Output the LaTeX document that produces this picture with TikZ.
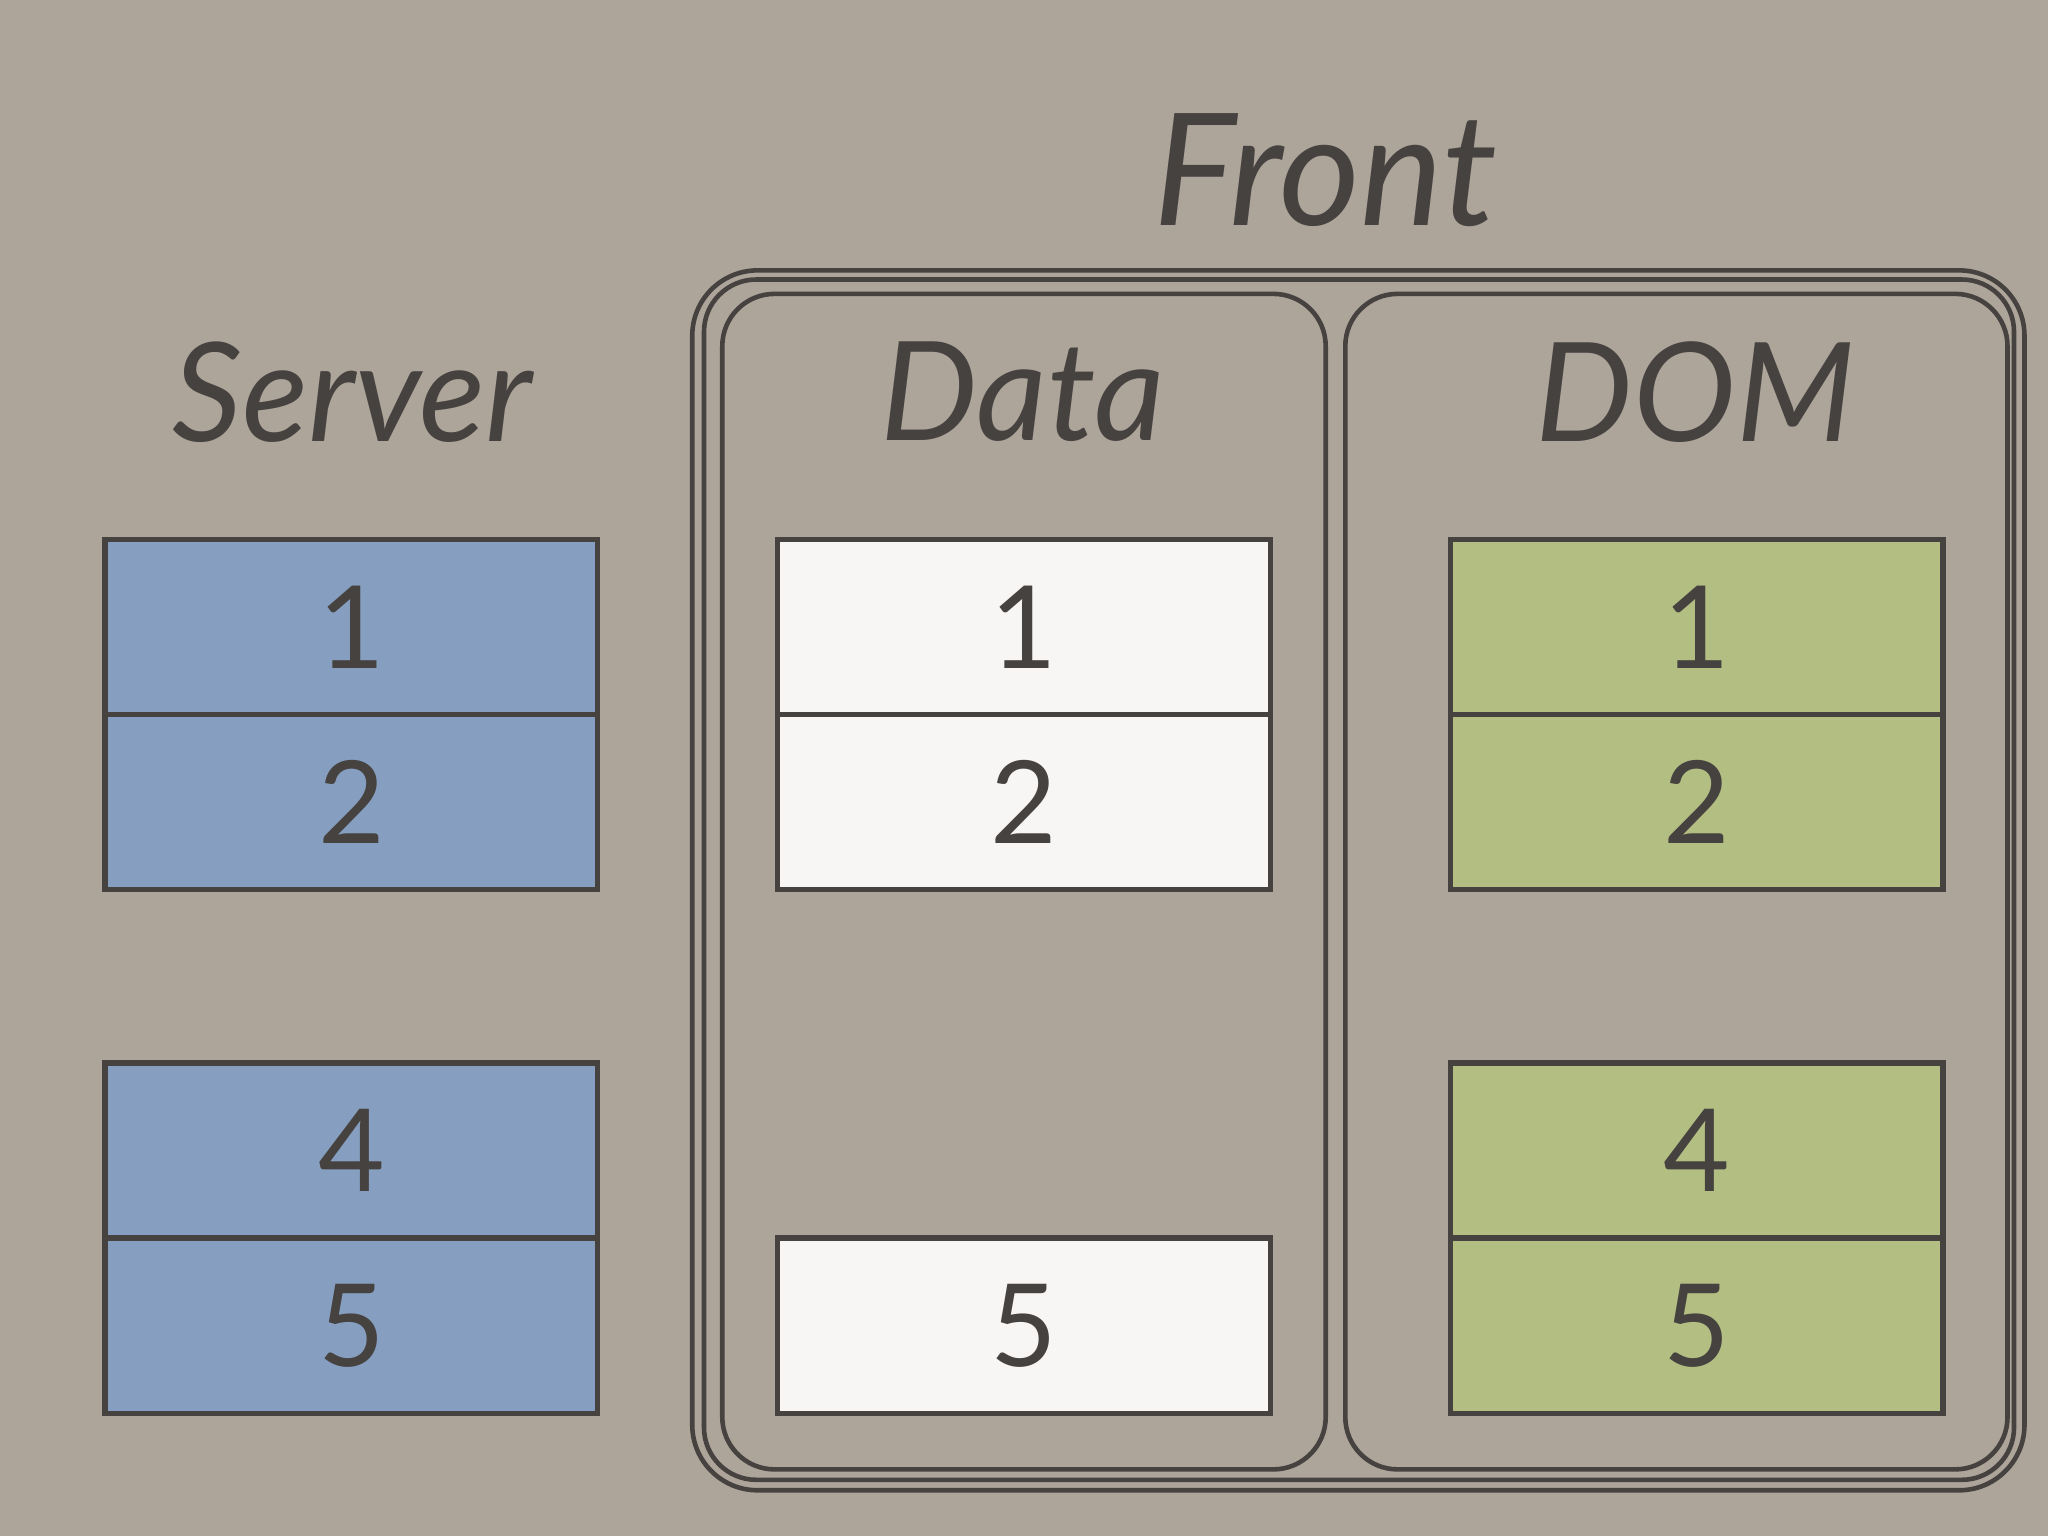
\documentclass[tikz,border=0pt]{standalone}
\usepackage{fontspec}
\setsansfont{Lato}
\usetikzlibrary{positioning, calc}
\definecolor{bgPaper}{RGB}{173, 164, 154}
\definecolor{inkDark}{RGB}{70, 66, 64}
\definecolor{srvBlue}{RGB}{134, 159, 192}
\definecolor{dataWhite}{RGB}{248, 246, 244}
\definecolor{domGreen}{RGB}{179, 191, 130}
\tikzset{
    base/.style={
        font=\sffamily,
        align=center
    },
    title/.style={
        base,
        font=\sffamily\itshape\fontsize{30}{30}\selectfont,
        text=inkDark
    },
    cell/.style={
        base,
        rectangle,
        draw=inkDark,
        line width=1.2pt,
        minimum width=3.77cm,
        minimum height=1.34cm,
        inner sep=0pt,
        outer sep=0pt,
        text=inkDark,
        font=\sffamily\fontsize{25}{25}\selectfont
    },
    frame/.style={
        draw=inkDark,
        line width=1pt,
        rounded corners=4mm
    }
}
\begin{document}
\begin{tikzpicture}[x=0.01cm, y=-0.01cm]
  \useasboundingbox[fill=bgPaper] (0,0) rectangle (1568,1176);

  % Titles
  \node[title, font=\sffamily\itshape\fontsize{34}{34}\selectfont] (front) at (1015,130) {Front};
  \node[title] (server) at (270,300) {Server};
  \node[title] (data) at (783,300) {Data};
  \node[title] (dom) at (1298,300) {DOM};

  % Frames
  \draw[frame, rounded corners=5mm] (530,207) rectangle (1550,1141);
  \draw[frame] (539,214) rectangle (1542,1133);
  \draw[frame] (553,225) rectangle (1015,1125);
  \draw[frame] (1030,225) rectangle (1537,1125);

  % Server
  \node[cell, fill=srvBlue] (s1) at (269,480) {1};
  \node[cell, fill=srvBlue, below=0pt of s1] (s2) {2};
  \node[cell, fill=srvBlue] (s4) at (269,881) {4};
  \node[cell, fill=srvBlue, below=0pt of s4] (s5) {5};

  % Data
  \node[cell, fill=dataWhite] (d1) at (784,480) {1};
  \node[cell, fill=dataWhite, below=0pt of d1] (d2) {2};
  \node[cell, fill=dataWhite] (d5) at (784,1015) {5};

  % DOM
  \node[cell, fill=domGreen] (m1) at (1299,480) {1};
  \node[cell, fill=domGreen, below=0pt of m1] (m2) {2};
  \node[cell, fill=domGreen] (m4) at (1299,881) {4};
  \node[cell, fill=domGreen, below=0pt of m4] (m5) {5};
\end{tikzpicture}
\end{document}
